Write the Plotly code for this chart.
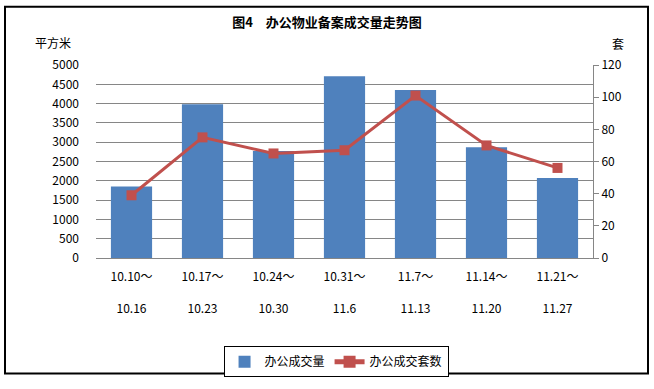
import plotly.graph_objects as go

categories = ["10.10～", "10.17～", "10.24～", "10.31～", "11.7～", "11.14～", "11.21～"]
cat_ends = ["10.16", "10.23", "10.30", "11.6", "11.13", "11.20", "11.27"]
area_sqm = [1850, 3980, 2770, 4710, 4350, 2870, 2075]
units = [39, 75, 65, 67, 101, 70, 56]

left_ticks = list(range(0, 5001, 500))
right_ticks = list(range(0, 121, 20))

FONT = "Noto Sans CJK SC"
ticktext = [f"{a}<br> <br>{b}" for a, b in zip(categories, cat_ends)]

fig = go.Figure()
fig.add_trace(go.Bar(
    x=categories, y=area_sqm, name="办公成交量",
    marker=dict(color="#4F81BD", line=dict(width=0)),
    yaxis="y",
))
fig.add_trace(go.Scatter(
    x=categories, y=units, name="办公成交套数", mode="lines+markers",
    line=dict(color="#C0504D", width=3),
    marker=dict(symbol="square", size=10, color="#C0504D"),
    yaxis="y2",
))

fig.update_layout(
    width=654, height=389,
    margin=dict(l=96, r=61, t=65, b=125),
    paper_bgcolor="white", plot_bgcolor="white",
    font=dict(family=FONT, size=12, color="black"),
    bargap=0.42,
    showlegend=True,
    title=dict(text="<b>图4　办公物业备案成交量走势图</b>", x=0.5, xanchor="center",
               y=1 - 22 / 389, yanchor="middle", font=dict(size=13, family=FONT)),
    xaxis=dict(
        type="category", tickmode="array", tickvals=categories, ticktext=ticktext,
        showline=True, linecolor="#868686", linewidth=1,
        ticks="", showgrid=False, tickfont=dict(size=12, family=FONT),
        ticklabelstandoff=8,
    ),
    yaxis=dict(
        range=[0, 5000], tickvals=left_ticks, showgrid=True, gridcolor="#868686",
        gridwidth=1, zeroline=False, showline=False, ticks="",
        ticklabelstandoff=16, tickfont=dict(size=12, family=FONT),
    ),
    yaxis2=dict(
        range=[0, 120], tickvals=right_ticks, overlaying="y", side="right",
        showgrid=False, zeroline=False, showline=True, linecolor="#868686",
        linewidth=1, ticks="outside", ticklen=5, tickcolor="#868686",
        tickfont=dict(size=12, family=FONT),
    ),
    legend=dict(
        orientation="h", x=0.483, xanchor="center", y=(264 - 371) / 199,
        yanchor="middle", bordercolor="black", borderwidth=1,
        font=dict(size=12, family=FONT), bgcolor="white",
        itemsizing="constant", tracegroupgap=0,
    ),
    annotations=[
        dict(text="平方米", xref="paper", yref="paper", x=(33 - 96) / 497,
             y=(264 - 42) / 199, xanchor="left", yanchor="middle",
             showarrow=False, font=dict(size=12, family=FONT)),
        dict(text="套", xref="paper", yref="paper", x=(618 - 96) / 497,
             y=(264 - 43) / 199, xanchor="center", yanchor="middle",
             showarrow=False, font=dict(size=12, family=FONT)),
    ],
    shapes=[
        dict(type="rect", xref="paper", yref="paper",
             x0=(5 - 96) / 497, x1=(648 - 96) / 497,
             y0=(264 - 383) / 199, y1=(264 - 5) / 199,
             line=dict(color="black", width=2), fillcolor="rgba(0,0,0,0)"),
    ],
)

fig.write_html(
    "out.html",
    config={"displayModeBar": False},
    post_script="document.body.style.margin='0';document.body.style.overflow='hidden';",
)
